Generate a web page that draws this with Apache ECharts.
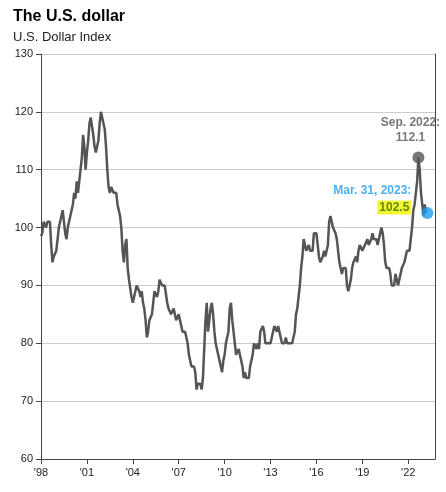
<!DOCTYPE html>
<html>
<head>
<meta charset="utf-8">
<script src="https://cdn.jsdelivr.net/npm/echarts@6/dist/echarts.min.js"></script>
<style>html,body{margin:0;background:#fff}#c{width:446px;height:492px}</style>
</head>
<body>
<div id="c"></div>
<script>
// monthly U.S. Dollar Index, Jan 1998 .. Mar 2023
const startYear = 1998
const values = [
  98.5,99,101,101,100,101,101,101,97,94,95,95,
  96,98,100,101,102,103,101,99,98,100,101,102,
  103,104,106,105,108,106,108,110,112,116,114,110,
  113,115,118,119,119,116,114,113,113,115,118,120,
  119,118,117,114,110,107,106,107,107,106,106,106,
  104,103,102,100,96,94,97,98,93,91,91,88,
  87,88,89,90,90,89,88,89,87,86,84,81,
  82,84,84,85,87,89,89,88,89,91,91,90,
  90,90,90,87,86,86,85,85,86,86,84,84,
  85,84,83,82,82,82,81,80,78,77,76,76,
  76,75,72,73,73,73,72,74,79,84,87,82,
  84,86,87,85,82,80,80,78,77,76,75,77,
  78,80,81,82,86,87,84,82,80,78,78,79,
  79,77,76,74,75,74,74,74,76,77,78,80,
  80,79,80,79,82,82,83,82,80,80,80,80,
  80,80,82,83,83,82,83,82,81,80,80,80,
  81,80,80,80,80,80,81,82,85,86,88,90,
  93,95,98,97,96,96,97,96,96,96,99,99,
  99,97,95,94,94,95,96,95,95,97,101,102,
  101,100,100,99,98,96,94,93,92,93,93,93,
  90,89,90,91,93,94,94,95,94,96,97,97,
  96,96,97,97,98,97,97,98,99,98,98,98,
  97,98,99,100,99,97,94,93,93,93,92,90,
  90,90,92,91,90,91,92,93,93,94,95,96,
  96,96,98,100,103,104,106,108,112.1,110,106,104,
  102,104,102.5
]
const peak = { label: 'Sep. 2022:', x: 2022 + 8 / 12, y: 112.1 }
const latest = { label: 'Mar. 31, 2023:', x: 2023 + 3 / 12, y: 102.5 }

const lineData = values.map((v, i) => [startYear + i / 12, v])

const chart = echarts.init(document.getElementById('c'))
chart.setOption({
  animation: false,
  textStyle: { fontFamily: 'Liberation Sans, Arial, sans-serif' },
  title: {
    text: 'The U.S. dollar',
    subtext: 'U.S. Dollar Index',
    left: 8, top: 4, itemGap: 6,
    textStyle: { fontSize: 16, fontWeight: 'bold', color: '#000' },
    subtextStyle: { fontSize: 13, color: '#222' }
  },
  grid: { left: 41, right: 11, top: 54, bottom: 33 },
  xAxis: {
    type: 'value', min: 1998, max: 2023.75, interval: 3,
    axisLine: { lineStyle: { color: '#444' } },
    axisTick: { show: true, lineStyle: { color: '#444' } },
    splitLine: { show: false },
    axisLabel: {
      color: '#222', fontSize: 11, showMaxLabel: false,
      formatter: v => "'" + String(Math.round(v)).slice(2)
    }
  },
  yAxis: [{
    type: 'value', min: 60, max: 130, interval: 10,
    axisLine: { show: true, lineStyle: { color: '#444' } },
    splitLine: { lineStyle: { color: '#ccc' } },
    axisLabel: { color: '#222', fontSize: 11 }
  }, {
    type: 'value', min: 60, max: 130, position: 'right',
    axisLine: { show: true, lineStyle: { color: '#444' } },
    axisLabel: { show: false }, splitLine: { show: false }, axisTick: { show: false }
  }],
  series: [{
    type: 'line', data: lineData, showSymbol: false,
    lineStyle: { color: '#555', width: 2.5 }
  }, {
    type: 'scatter', symbolSize: 12, z: 5,
    data: [[peak.x, peak.y]],
    itemStyle: { color: '#555' },
    label: {
      show: true, position: 'top', distance: 6, align: 'center',
      formatter: peak.label + '\n' + peak.y.toFixed(1),
      color: '#555', fontWeight: 'bold', fontSize: 12, lineHeight: 15, offset: [-8, 0]
    }
  }, {
    type: 'scatter', symbolSize: 12, z: 5,
    data: [[latest.x, latest.y]],
    itemStyle: { color: '#1a9bef' },
    label: {
      show: true, position: 'left', distance: 10, align: 'right',
      offset: [0, -14],
      formatter: '{a|' + latest.label + '}\n{b|' + latest.y.toFixed(1) + '}',
      rich: {
        a: { color: '#1a9bef', fontWeight: 'bold', fontSize: 12, lineHeight: 17 },
        b: { color: '#3a6e00', backgroundColor: '#f2f200', fontWeight: 'bold', fontSize: 12, padding: [1, 2], lineHeight: 17 }
      }
    }
  }]
})
</script>
</body>
</html>
